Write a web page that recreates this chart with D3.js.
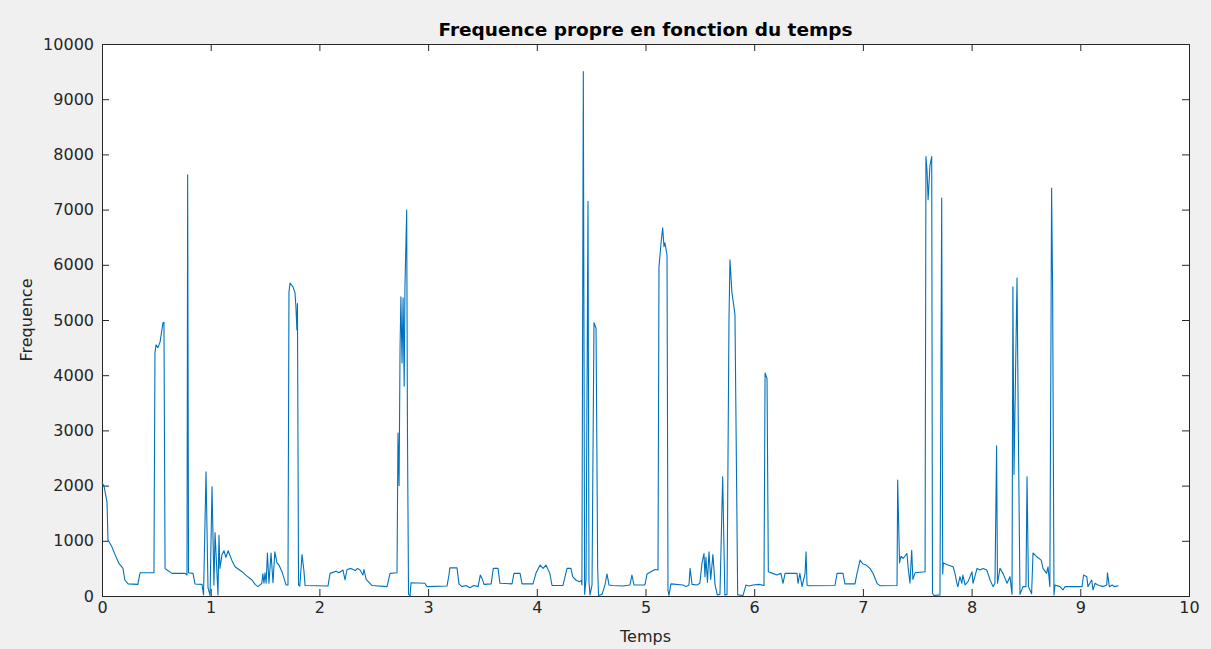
<!DOCTYPE html>
<html>

<head>
	<title>Frequence propre en fonction du temps</title>
	<script src="https://cdn.jsdelivr.net/npm/d3@7/dist/d3.min.js"></script>
	<style>
		body {
			margin: 0;
			background-color: #f0f0f0;
		}

		text {
			font-family: "DejaVu Sans", sans-serif;
			fill: #262626;
		}

		.axis line,
		.axis path {
			stroke: #262626;
		}
	</style>
</head>

<body>
	<svg id="chart" width="1211" height="649"></svg>

	<script type="text/javascript">
		// values: time (s) and frequency
		var temps = [
			0, 0.018, 0.046, 0.055, 0.089, 0.12, 0.156, 0.193, 0.21, 0.24, 0.33, 0.35, 0.478, 0.487, 0.497, 0.515, 0.534, 0.561, 0.57, 0.58,
			0.598, 0.644, 0.764, 0.782, 0.788, 0.796, 0.837, 0.856, 0.92, 0.934, 0.957, 0.975, 0.994, 1.012, 1.03, 1.04, 1.058, 1.067, 1.076, 1.085,
			1.104, 1.122, 1.14, 1.16, 1.196, 1.224, 1.288, 1.334, 1.38, 1.408, 1.435, 1.47, 1.48, 1.49, 1.5, 1.51, 1.522, 1.536, 1.555, 1.573,
			1.59, 1.61, 1.628, 1.656, 1.693, 1.711, 1.72, 1.73, 1.757, 1.775, 1.784, 1.793, 1.798, 1.808, 1.82, 1.84, 1.858, 1.868, 2.079, 2.098,
			2.153, 2.18, 2.217, 2.236, 2.254, 2.29, 2.33, 2.35, 2.374, 2.4, 2.41, 2.43, 2.465, 2.484, 2.622, 2.65, 2.714, 2.723, 2.733, 2.742,
			2.75, 2.76, 2.77, 2.78, 2.787, 2.803, 2.81, 2.82, 2.834, 2.843, 2.97, 2.99, 3.174, 3.192, 3.2, 3.266, 3.284, 3.31, 3.35, 3.385,
			3.42, 3.46, 3.48, 3.5, 3.514, 3.58, 3.6, 3.643, 3.661, 3.772, 3.79, 3.846, 3.864, 3.965, 3.992, 4.03, 4.057, 4.084, 4.12, 4.14,
			4.24, 4.278, 4.314, 4.33, 4.36, 4.39, 4.41, 4.415, 4.428, 4.44, 4.453, 4.471, 4.48, 4.49, 4.508, 4.526, 4.545, 4.56, 4.568, 4.6,
			4.627, 4.646, 4.664, 4.7, 4.793, 4.857, 4.875, 4.894, 4.995, 5.014, 5.05, 5.088, 5.115, 5.124, 5.143, 5.158, 5.17, 5.179, 5.198, 5.207,
			5.216, 5.234, 5.345, 5.373, 5.4, 5.41, 5.428, 5.474, 5.5, 5.52, 5.538, 5.547, 5.556, 5.57, 5.584, 5.6, 5.62, 5.64, 5.66, 5.685,
			5.71, 5.73, 5.75, 5.768, 5.777, 5.795, 5.805, 5.823, 5.848, 5.897, 5.925, 5.952, 5.99, 6.045, 6.09, 6.1, 6.118, 6.13, 6.17, 6.21,
			6.246, 6.265, 6.284, 6.394, 6.403, 6.42, 6.44, 6.468, 6.477, 6.486, 6.495, 6.743, 6.762, 6.817, 6.835, 6.927, 6.946, 6.974, 7.0, 7.03,
			7.065, 7.093, 7.13, 7.157, 7.314, 7.32, 7.337, 7.35, 7.37, 7.405, 7.417, 7.433, 7.449, 7.46, 7.48, 7.572, 7.58, 7.59, 7.6, 7.617,
			7.633, 7.64, 7.654, 7.709, 7.725, 7.734, 7.74, 7.782, 7.83, 7.847, 7.865, 7.874, 7.893, 7.91, 7.92, 7.94, 7.967, 8.004, 8.013, 8.05,
			8.077, 8.105, 8.14, 8.17, 8.197, 8.215, 8.23, 8.238, 8.261, 8.289, 8.326, 8.353, 8.372, 8.38, 8.39, 8.404, 8.418, 8.43, 8.445, 8.473,
			8.5, 8.51, 8.523, 8.552, 8.565, 8.6, 8.64, 8.657, 8.69, 8.703, 8.72, 8.736, 8.745, 8.758, 8.767, 8.813, 8.84, 8.86, 9.016, 9.03,
			9.06, 9.07, 9.105, 9.117, 9.135, 9.162, 9.21, 9.243, 9.25, 9.267, 9.294, 9.31, 9.35
		];

		var frequences = [
			2050, 2000, 1700, 1015, 900, 750, 590, 500, 290, 220, 210, 420, 420, 4400, 4550, 4500, 4600, 4950, 4960, 500,
			470, 410, 410, 380, 7630, 420, 410, 217, 210, 20, 2250, 150, 10, 1980, 200, 1150, 400, 20, 1100, 500,
			750, 820, 700, 820, 640, 530, 440, 360, 290, 210, 170, 230, 400, 230, 420, 230, 780, 230, 780, 240,
			800, 600, 560, 440, 200, 200, 5500, 5670, 5600, 5500, 5240, 4820, 5300, 200, 180, 750, 450, 190, 180, 410,
			450, 420, 470, 290, 480, 500, 460, 500, 470, 380, 480, 300, 230, 190, 170, 410, 420, 2950, 2000, 4500,
			5420, 4220, 5400, 3800, 5600, 6990, 3000, 30, 0, 240, 230, 170, 180, 380, 510, 510, 220, 170, 190, 150,
			190, 170, 380, 300, 210, 220, 500, 500, 230, 220, 410, 410, 220, 220, 410, 560, 500, 560, 410, 190,
			190, 500, 500, 350, 290, 260, 280, 200, 9500, 30, 300, 7150, 250, 20, 200, 4950, 4850, 500, 10, 30,
			200, 400, 200, 190, 180, 200, 380, 200, 200, 400, 440, 480, 470, 5960, 6400, 6670, 6330, 6400, 6170, 100,
			10, 220, 200, 170, 200, 500, 210, 200, 230, 600, 770, 350, 700, 250, 800, 300, 750, 200, 20, 30,
			2160, 20, 30, 5000, 6090, 5500, 5360, 5100, 20, 10, 200, 180, 200, 210, 190, 4040, 3940, 440, 410, 380,
			410, 230, 410, 410, 230, 410, 170, 410, 800, 200, 187, 190, 410, 410, 220, 220, 410, 650, 580, 560,
			500, 411, 230, 187, 190, 2100, 600, 720, 680, 770, 500, 230, 830, 300, 420, 440, 7960, 7700, 7180, 7800,
			7960, 50, 10, 20, 7210, 400, 600, 560, 530, 410, 230, 170, 350, 230, 380, 200, 260, 440, 230, 500,
			470, 500, 470, 290, 170, 230, 2720, 230, 500, 410, 230, 350, 30, 5600, 2200, 4000, 5760, 3000, 30, 170,
			169, 2160, 170, 40, 780, 710, 650, 500, 410, 530, 170, 7390, 5600, 20, 200, 170, 110, 170, 170, 380,
			350, 170, 290, 110, 230, 200, 170, 200, 420, 169, 200, 170, 187
		];

		var xTicks = [0, 1, 2, 3, 4, 5, 6, 7, 8, 9, 10];
		var yTicks = [0, 1000, 2000, 3000, 4000, 5000, 6000, 7000, 8000, 9000, 10000];

		var svg = d3.select('#chart'),
			margin = { top: 44, right: 22, bottom: 53, left: 102 },
			width = +svg.attr('width') - margin.left - margin.right,
			height = +svg.attr('height') - margin.top - margin.bottom;

		var x = d3.scaleLinear().domain([0, 10]).range([0, width]);
		var y = d3.scaleLinear().domain([0, 10000]).range([height, 0]);

		var g = svg.append('g')
			.attr('transform', `translate(${margin.left},${margin.top})`);

		g.append('rect')
			.attr('width', width)
			.attr('height', height)
			.attr('fill', 'white');

		// ticks point inward on all four sides (matlab box on)
		g.append('g')
			.attr('class', 'axis')
			.attr('transform', `translate(0,${height})`)
			.call(d3.axisBottom(x).tickValues(xTicks).tickSize(-7).tickPadding(6).tickFormat(d3.format('d')))
			.call(a => a.selectAll('text').style('font-size', '16px'));

		g.append('g')
			.attr('class', 'axis')
			.call(d3.axisTop(x).tickValues(xTicks).tickSize(-7).tickFormat(''));

		g.append('g')
			.attr('class', 'axis')
			.call(d3.axisLeft(y).tickValues(yTicks).tickSize(-7).tickPadding(8).tickFormat(d3.format('d')))
			.call(a => a.selectAll('text').style('font-size', '16px'));

		g.append('g')
			.attr('class', 'axis')
			.attr('transform', `translate(${width},0)`)
			.call(d3.axisRight(y).tickValues(yTicks).tickSize(-7).tickFormat(''));

		g.selectAll('.axis path').attr('stroke-width', 1);

		var line = d3.line()
			.x((d, i) => x(temps[i]))
			.y(d => y(d));

		g.append('path')
			.datum(frequences)
			.attr('fill', 'none')
			.attr('stroke', '#0072bd')
			.attr('stroke-width', 1.1)
			.attr('stroke-linejoin', 'round')
			.attr('d', line);

		svg.append('text')
			.attr('x', margin.left + width / 2)
			.attr('y', 36)
			.attr('text-anchor', 'middle')
			.style('font-size', '18.5px')
			.style('font-weight', 'bold')
			.style('fill', '#000')
			.text('Frequence propre en fonction du temps');

		svg.append('text')
			.attr('x', margin.left + width / 2)
			.attr('y', 642)
			.attr('text-anchor', 'middle')
			.style('font-size', '16px')
			.text('Temps');

		svg.append('text')
			.attr('transform', `translate(32,${margin.top + height / 2}) rotate(-90)`)
			.attr('text-anchor', 'middle')
			.style('font-size', '16px')
			.text('Frequence');
	</script>
</body>

</html>
